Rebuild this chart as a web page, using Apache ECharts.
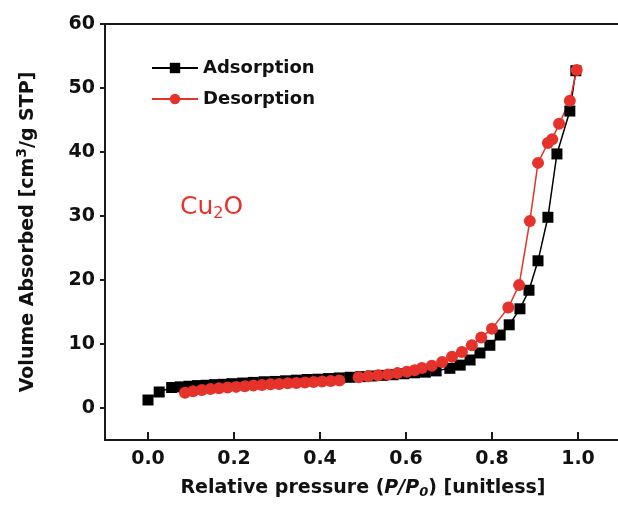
<!DOCTYPE html>
<html>
<head>
<meta charset="utf-8">
<script src="https://cdn.jsdelivr.net/npm/echarts@6/dist/echarts.min.js"></script>
<style>
  html, body { margin: 0; padding: 0; background: #fff; }
  #echarts { width: 618px; height: 506px; }
</style>
</head>
<body>
<div id="echarts"></div>
<script>
// adsorption branch (black squares)
var adsP = [0.0, 0.026, 0.055, 0.075, 0.095, 0.115, 0.135, 0.155, 0.175, 0.195, 0.22, 0.245, 0.27, 0.295, 0.32, 0.345, 0.37, 0.395, 0.42, 0.445, 0.47, 0.495, 0.52, 0.545, 0.57, 0.595, 0.62, 0.645, 0.67, 0.702, 0.726, 0.749, 0.772, 0.795, 0.819, 0.84, 0.865, 0.886, 0.907, 0.93, 0.951, 0.981, 0.995];
var adsV = [1.25, 2.5, 3.2, 3.3, 3.4, 3.5, 3.55, 3.65, 3.7, 3.8, 3.9, 4.0, 4.1, 4.15, 4.25, 4.35, 4.45, 4.5, 4.6, 4.7, 4.8, 4.9, 5.0, 5.1, 5.2, 5.35, 5.5, 5.6, 5.8, 6.2, 6.7, 7.5, 8.6, 9.8, 11.4, 13.0, 15.5, 18.4, 23.0, 29.8, 39.7, 46.4, 52.7];

// desorption branch (red circles)
var desP = [0.086, 0.105, 0.125, 0.145, 0.165, 0.185, 0.205, 0.225, 0.245, 0.265, 0.285, 0.305, 0.325, 0.345, 0.365, 0.385, 0.405, 0.425, 0.445, 0.49, 0.512, 0.535, 0.558, 0.58, 0.602, 0.62, 0.637, 0.66, 0.684, 0.707, 0.73, 0.753, 0.775, 0.8, 0.838, 0.863, 0.888, 0.907, 0.93, 0.94, 0.956, 0.981, 0.997];
var desV = [2.4, 2.6, 2.8, 2.95, 3.1, 3.2, 3.3, 3.4, 3.5, 3.6, 3.7, 3.75, 3.85, 3.9, 4.0, 4.05, 4.15, 4.2, 4.3, 4.8, 4.95, 5.1, 5.25, 5.45, 5.65, 5.9, 6.25, 6.6, 7.2, 8.0, 8.75, 9.8, 11.0, 12.4, 15.7, 19.2, 29.2, 38.3, 41.4, 42.0, 44.4, 48.0, 52.8];

var xTicks = [0, 0.2, 0.4, 0.6, 0.8, 1.0];
var yTicks = [0, 10, 20, 30, 40, 50, 60];

function pairs(xs, ys) {
  return xs.map(function (x, i) { return [x, ys[i]]; });
}

var FONT = 'DejaVu Sans';
var AXIS = '#1a1a1a';

var myChart = echarts.init(document.getElementById('echarts'));
var option = {
  animation: false,
  grid: {
    left: 105, top: 24, right: -3, bottom: 66,
    show: true, borderColor: AXIS, borderWidth: 2,
    outerBoundsMode: 'none'
  },
  legend: {
    orient: 'vertical',
    left: 146, top: 54,
    itemWidth: 46, itemHeight: 13, itemGap: 13,
    textStyle: { fontFamily: FONT, fontWeight: 'bold', fontSize: 18, color: '#111' },
    data: ['Adsorption', 'Desorption']
  },
  graphic: [{
    type: 'text',
    left: 180, top: 195,
    style: {
      text: 'Cu{s|2}O',
      fontFamily: FONT, fontSize: 25, fill: '#e5322a',
      rich: { s: { fontFamily: FONT, fontSize: 16, fill: '#e5322a', padding: [12, 0, 0, 0] } }
    }
  }],
  xAxis: {
    type: 'value',
    min: -0.1, max: 1.1,
    splitLine: { show: false },
    axisLine: { onZero: false, lineStyle: { color: AXIS, width: 2 } },
    axisTick: { inside: true, length: 8, customValues: xTicks, lineStyle: { color: AXIS, width: 2 } },
    axisLabel: {
      customValues: xTicks, margin: 10,
      fontFamily: FONT, fontWeight: 'bold', fontSize: 19, color: '#111',
      formatter: function (v) { return v.toFixed(1); }
    },
    name: 'Relative pressure ({i|P/P}{isub|0}) [unitless]',
    nameLocation: 'middle', nameGap: 38,
    nameTextStyle: {
      fontFamily: FONT, fontWeight: 'bold', fontSize: 19, color: '#111',
      rich: {
        i: { fontFamily: FONT, fontWeight: 'bold', fontStyle: 'italic', fontSize: 19, color: '#111' },
        isub: { fontFamily: FONT, fontWeight: 'bold', fontStyle: 'italic', fontSize: 13, color: '#111', padding: [8, 0, 0, 0] }
      }
    }
  },
  yAxis: {
    type: 'value',
    min: -5, max: 60,
    splitLine: { show: false },
    axisLine: { onZero: false, lineStyle: { color: AXIS, width: 2 } },
    axisTick: { length: 5, customValues: yTicks, lineStyle: { color: AXIS, width: 2 } },
    axisLabel: {
      customValues: yTicks, margin: 10,
      fontFamily: FONT, fontWeight: 'bold', fontSize: 19, color: '#111'
    },
    name: 'Volume Absorbed [cm{sup|3}/g STP]',
    nameLocation: 'middle', nameGap: 64, nameRotate: 90,
    nameTextStyle: {
      fontFamily: FONT, fontWeight: 'bold', fontSize: 19, color: '#111',
      rich: {
        sup: { fontFamily: FONT, fontWeight: 'bold', fontSize: 14, color: '#111', padding: [0, 0, 12, 0] }
      }
    }
  },
  series: [{
    name: 'Adsorption',
    type: 'line',
    data: pairs(adsP, adsV),
    symbol: 'rect', symbolSize: 11,
    lineStyle: { color: '#000', width: 1.5 },
    itemStyle: { color: '#000' }
  }, {
    name: 'Desorption',
    type: 'line',
    data: pairs(desP, desV),
    symbol: 'circle', symbolSize: 12,
    lineStyle: { color: '#e5322a', width: 1.5 },
    itemStyle: { color: '#e5322a' }
  }]
};
myChart.setOption(option);
</script>
</body>
</html>
